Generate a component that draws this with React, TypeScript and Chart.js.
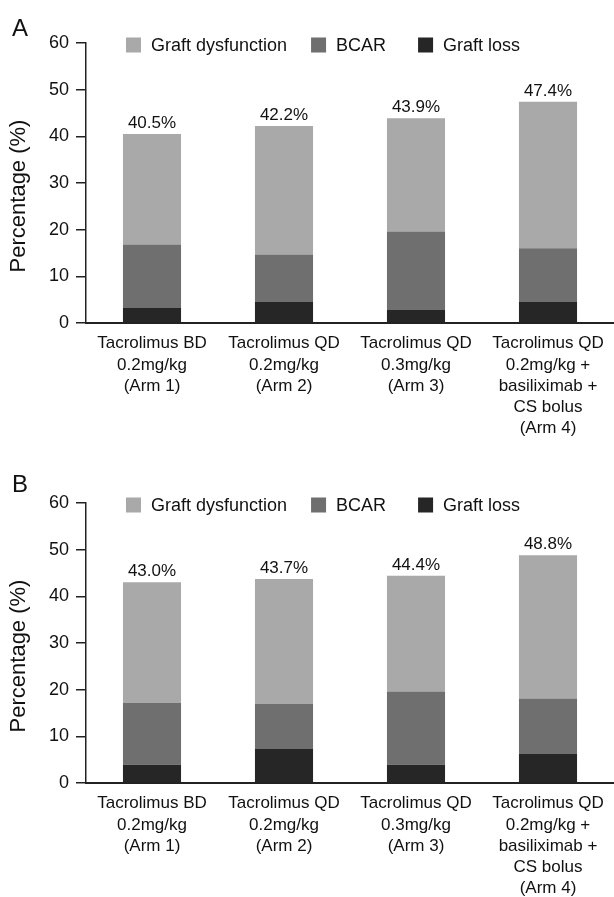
import React, { useEffect, useRef } from "react";
import { Chart, registerables } from "chart.js";

Chart.register(...registerables);

const FONT = "'Liberation Sans', Arial, Helvetica, sans-serif";

const categories: string[][] = [
  ["Tacrolimus BD", "0.2mg/kg", "(Arm 1)"],
  ["Tacrolimus QD", "0.2mg/kg", "(Arm 2)"],
  ["Tacrolimus QD", "0.3mg/kg", "(Arm 3)"],
  ["Tacrolimus QD", "0.2mg/kg +", "basiliximab +", "CS bolus", "(Arm 4)"],
];
const seriesNames = ["Graft loss", "BCAR", "Graft dysfunction"];
const seriesColors = ["#262626", "#6f6f6f", "#a9a9a9"];
const legendOrder = [2, 1, 0];
const legendGaps = [24, 32, 0];
const yTicks = [0, 10, 20, 30, 40, 50, 60];
const yTitle = "Percentage (%)";

// Panel A
const lossA = [3.2, 4.5, 2.8, 4.5];
const bcarA = [13.6, 10.2, 16.8, 11.5];
const dysA = [23.7, 27.5, 24.3, 31.4];
const totalA = [40.5, 42.2, 43.9, 47.4];

// Panel B
const lossB = [3.9, 7.3, 3.9, 6.2];
const bcarB = [13.3, 9.7, 15.7, 11.9];
const dysB = [25.8, 26.7, 24.8, 30.7];
const totalB = [43.0, 43.7, 44.4, 48.8];

type PanelProps = {
  letter: string;
  letterBase: number;
  loss: number[];
  bcar: number[];
  dys: number[];
  totals: number[];
  height: number;
};

function Panel({ letter, letterBase, loss, bcar, dys, totals, height }: PanelProps) {
  const ref = useRef<HTMLCanvasElement | null>(null);
  useEffect(() => {
    const canvas = ref.current;
    if (!canvas) return;
    const decor = {
      id: "decor",
      afterDraw(chart: any) {
        const ctx = chart.ctx as CanvasRenderingContext2D;
        const { left, top, bottom } = chart.chartArea;
        const xs = chart.scales.x;
        const ys = chart.scales.y;
        ctx.save();
        ctx.fillStyle = "#111";
        // panel letter
        ctx.font = `24px ${FONT}`;
        ctx.textAlign = "left";
        ctx.textBaseline = "alphabetic";
        ctx.fillText(letter, 12, letterBase);
        // y title
        ctx.save();
        ctx.translate(19, (top + bottom) / 2 + 13);
        ctx.rotate(-Math.PI / 2);
        ctx.font = `22px ${FONT}`;
        ctx.textAlign = "center";
        ctx.textBaseline = "middle";
        ctx.fillText(yTitle, 0, 0);
        ctx.restore();
        // totals
        ctx.font = `17px ${FONT}`;
        ctx.textAlign = "center";
        ctx.textBaseline = "alphabetic";
        totals.forEach((t, i) => {
          ctx.fillText(t.toFixed(1) + "%", xs.getPixelForValue(i), ys.getPixelForValue(t) - 6);
        });
        // legend
        ctx.font = `18px ${FONT}`;
        ctx.textAlign = "left";
        ctx.textBaseline = "middle";
        let lx = left + 40;
        const ly = top + 2;
        legendOrder.forEach((k, j) => {
          ctx.fillStyle = seriesColors[k];
          ctx.fillRect(lx, ly - 7.5, 15, 15);
          ctx.fillStyle = "#111";
          ctx.fillText(seriesNames[k], lx + 25, ly + 1);
          lx += 25 + ctx.measureText(seriesNames[k]).width + legendGaps[j];
        });
        ctx.restore();
      },
    };
    const series = [loss, bcar, dys];
    const chart = new Chart(canvas, {
      type: "bar",
      data: {
        labels: categories,
        datasets: series.map((d, k) => ({
          label: seriesNames[k],
          data: d,
          backgroundColor: seriesColors[k],
          borderWidth: 0,
          barPercentage: 0.44,
          categoryPercentage: 1,
        })),
      },
      options: {
        responsive: false,
        animation: false,
        layout: { padding: { top: 43, left: 0, right: 0, bottom: 0 } },
        plugins: { legend: { display: false }, tooltip: { enabled: false } },
        scales: {
          x: {
            stacked: true,
            offset: true,
            grid: { display: true, drawOnChartArea: false, drawTicks: false },
            border: { display: true, color: "#222", width: 2 },
            ticks: {
              color: "#111",
              font: { family: FONT, size: 17, lineHeight: 1.25 },
              padding: 10,
              maxRotation: 0,
              autoSkip: false,
            },
            afterFit: (s: any) => {
              s.height = height - 323;
            },
          },
          y: {
            stacked: true,
            min: 0,
            max: 60,
            afterBuildTicks: (s: any) => {
              s.ticks = yTicks.map((v) => ({ value: v }));
            },
            ticks: { color: "#111", font: { family: FONT, size: 18 }, padding: 7 },
            grid: { drawOnChartArea: false, drawTicks: true, tickLength: 10, color: "#222", lineWidth: 1.5 },
            border: { display: true, color: "#222", width: 1.5 },
            afterFit: (s: any) => {
              s.width = 86;
            },
          },
        },
      },
      plugins: [decor],
    } as any);
    return () => chart.destroy();
  }, [letter, letterBase, loss, bcar, dys, totals, height]);
  return (
    <canvas
      ref={ref}
      width={614}
      height={height}
      style={{ display: "block", width: 614, height }}
    />
  );
}

export default function App() {
  useEffect(() => {
    document.body.style.margin = "0";
    document.body.style.background = "#fff";
  }, []);
  return (
    <div style={{ width: 614, height: 897, background: "#fff" }}>
      <Panel letter="A" letterBase={36} loss={lossA} bcar={bcarA} dys={dysA} totals={totalA} height={460} />
      <Panel letter="B" letterBase={32} loss={lossB} bcar={bcarB} dys={dysB} totals={totalB} height={437} />
    </div>
  );
}
